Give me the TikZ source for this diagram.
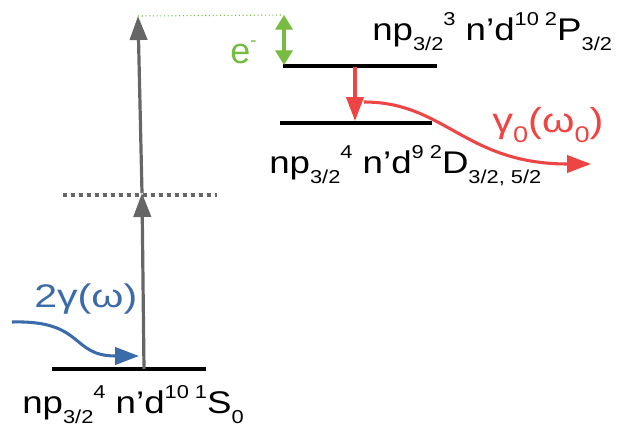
\documentclass[tikz,border=0pt]{standalone}
\usepackage{fontspec}
\setmainfont{Liberation Sans}
\usetikzlibrary{arrows.meta}
\definecolor{cgray}{HTML}{666666}
\definecolor{cred}{HTML}{EE4444}
\definecolor{cgreen}{HTML}{77BB41}
\definecolor{cblue}{HTML}{3B6BA8}
\newcommand\lsub[1]{\raisebox{-0.34em}{\fontsize{14}{15}\selectfont #1}}
\newcommand\lsup[1]{\raisebox{0.45em}{\fontsize{14}{15}\selectfont #1}}
\newcommand\rsub[1]{\raisebox{-0.3em}{\fontsize{17}{18}\selectfont #1}}
\begin{document}
\begin{tikzpicture}[x=0.75pt,y=-0.75pt,
  level/.style={line width=3pt,black},
  lbl/.style={font=\fontsize{23.5}{27}\selectfont,inner sep=0pt,anchor=base west},
  grayarrow/.style={cgray,line width=2.4pt,-{Triangle[length=18pt,width=13pt]}},
  redarrow/.style={cred,line width=2.3pt,-{Triangle[length=18pt,width=13pt]}},
  bluearrow/.style={cblue,line width=2.3pt,-{Triangle[length=18pt,width=13pt]}},
  greenarrow/.style={cgreen,line width=2.3pt,{Triangle[length=11pt,width=13pt]}-{Triangle[length=11pt,width=13pt]}}]
\useasboundingbox (0,0) rectangle (626,429);
% levels
\coordinate (g1) at (52,369); \coordinate (g2) at (206,369);
\coordinate (u1) at (283,66);  \coordinate (u2) at (437,66);
\coordinate (m1) at (280,123); \coordinate (m2) at (432,123);
\coordinate (v1) at (63,195);  \coordinate (v2) at (217,195);
\draw[level] (g1) -- (g2);
\draw[level] (u1) -- (u2);
\draw[level] (m1) -- (m2);
\draw[cgray,line width=2.4pt,dash pattern=on 3pt off 3pt] (v1) -- (v2);
% gray excitation arrows
\coordinate (a0) at (144,369);
\coordinate (a1) at (142,193);
\coordinate (a2) at (138,16);
\draw[grayarrow] (a0) -- (a1);
\draw[grayarrow] (a1) -- (a2);
% green
\coordinate (gtop) at (284,15);
\coordinate (gbot) at (284,65);
\draw[cgreen,line width=0.8pt,dotted] (a2) -- (gtop);
\draw[greenarrow] (gtop) -- (gbot);
\node[lbl,text=cgreen,font=\fontsize{27}{30}\selectfont] (e) at (230,63) {e\lsup{-}};
% red
\coordinate (r0) at (355,67);
\coordinate (r1) at (355,121);
\draw[redarrow] (r0) -- (r1);
\coordinate (c0) at (364,102);
\coordinate (c1) at (591,164);
\draw[redarrow] (c0) .. controls (445,102) and (465,164) .. (c1);
\node[lbl,text=cred,font=\fontsize{26}{29}\selectfont] (gam0) at (492,132) {\scalebox{1.2}[1]{γ\rsub{0}(ω\rsub{0})}};
% blue
\coordinate (b0) at (12,322);
\coordinate (b1) at (139,356);
\draw[bluearrow] (b0) .. controls (85,320) and (70,356) .. (b1);
\node[lbl,text=cblue,font=\fontsize{24.5}{28}\selectfont] (gam) at (34,307) {\scalebox{1.26}[1]{2γ(ω)}};
% level labels
\node[lbl] (tupper) at (372,40) {\scalebox{1.17}[1]{np\lsub{3/2}\lsup{3} n’d\lsup{10 2}P\lsub{3/2}}};
\node[lbl] (tmid) at (269,173) {\scalebox{1.17}[1]{np\lsub{3/2}\lsup{4} n’d\lsup{9 2}D\lsub{3/2,\ 5/2}}};
\node[lbl] (tlow) at (22,413) {\scalebox{1.17}[1]{np\lsub{3/2}\lsup{4} n’d\lsup{10 1}S\lsub{0}}};
\end{tikzpicture}
\end{document}
